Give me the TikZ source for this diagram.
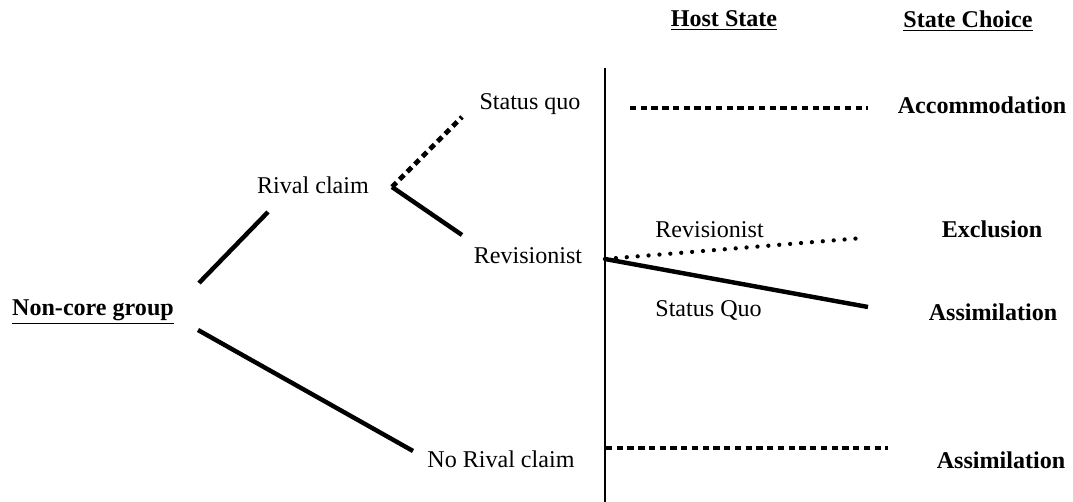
\documentclass[tikz,border=0pt]{standalone}
\usepackage{fontspec}
\setmainfont{Liberation Serif}
\begin{document}
\begin{tikzpicture}[x=0.54pt,y=-0.54pt,
  lbl/.style={inner sep=0pt,font=\fontsize{13}{15}\selectfont},
  blbl/.style={lbl,font=\fontsize{13}{15}\selectfont\bfseries},
  solidline/.style={line width=2.4pt},
  sqdots/.style={line width=2.6pt,dash pattern=on 3.4pt off 2.4pt},
  rddots/.style={line width=2.3pt,line cap=round,dash pattern=on 0pt off 5.9pt},
  axis/.style={line width=1.1pt}]
\useasboundingbox[fill=white] (0,0) rectangle (1073,502);
% headers
\node[blbl] (host) at (724,21) {\underline{Host State}};
\node[blbl] (choice) at (968,21) {\underline{State Choice}};
% labels
\node[blbl] (noncore) at (93,312) {\underline{Non-core group}};
\node[lbl] (rival) at (313,185) {Rival claim};
\node[lbl] (sq) at (530,104) {Status quo};
\node[lbl] (rev) at (528,256) {Revisionist};
\node[lbl,anchor=west] (norival) at (427,459) {No Rival claim};
\node[lbl,anchor=west] (rev2) at (655,230) {Revisionist};
\node[lbl,anchor=west] (sq2) at (655,310) {Status Quo};
\node[blbl] (acc) at (982,105) {Accommodation};
\node[blbl] (excl) at (992,229) {Exclusion};
\node[blbl] (assim1) at (993,312) {Assimilation};
\node[blbl] (assim2) at (1001,460) {Assimilation};
% vertical divider
\coordinate (vtop) at (605,68);
\coordinate (vbot) at (605,502);
\draw[axis] (vtop) -- (vbot);
% tree connectors
\coordinate (nc1) at (199,283);
\coordinate (rc0) at (268,212);
\coordinate (nc2) at (198,330);
\coordinate (nr0) at (413,451);
\coordinate (rcR) at (392,187);
\coordinate (sq0) at (462,117);
\coordinate (rev0) at (462,235);
\draw[solidline] (nc1) -- (rc0);
\draw[solidline] (nc2) -- (nr0);
\draw[sqdots] (rcR) -- (sq0);
\draw[solidline] (rcR) -- (rev0);
% host state connectors
\coordinate (hs) at (605,259);
\coordinate (exe) at (863,238);
\coordinate (ase) at (868,307);
\draw[rddots] (hs) -- (exe);
\draw[solidline] (hs) -- (ase);
\coordinate (acs) at (630,108);
\coordinate (ace) at (868,108);
\draw[sqdots] (acs) -- (ace);
\coordinate (nrs) at (606,448);
\coordinate (nre) at (888,448);
\draw[sqdots] (nrs) -- (nre);
\end{tikzpicture}
\end{document}
